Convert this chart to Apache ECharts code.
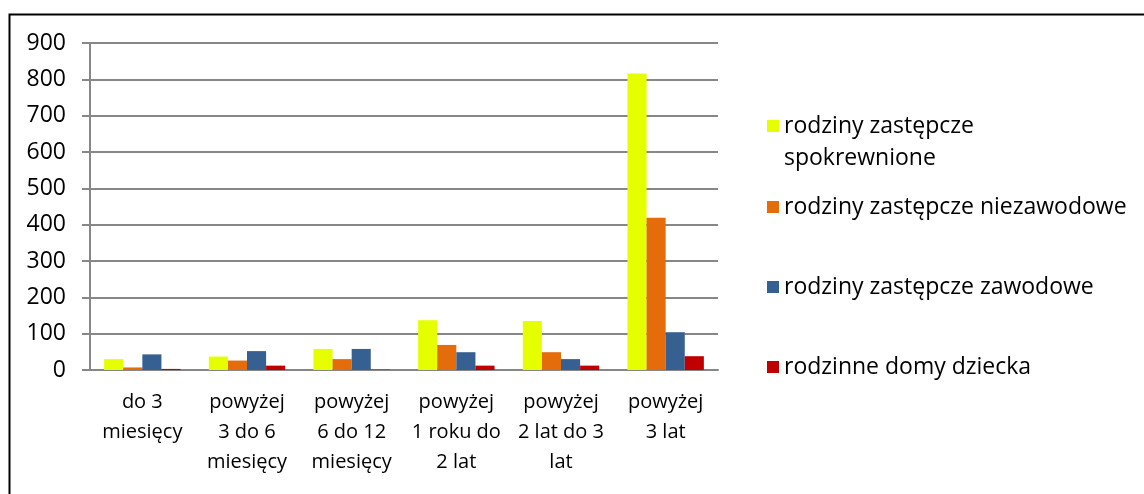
<!DOCTYPE html>
<html>
<head>
<meta charset="utf-8">
<script src="https://cdn.jsdelivr.net/npm/echarts@6/dist/echarts.min.js"></script>
<style>
html,body{margin:0;padding:0;background:#fff;}
#c{width:1144px;height:494px;}
</style>
</head>
<body>
<div id="c"></div>
<script>
const categories = ["do 3\nmiesięcy", "powyżej\n3 do 6\nmiesięcy", "powyżej\n6 do 12\nmiesięcy", "powyżej\n1 roku do\n2 lat", "powyżej\n2 lat do 3\nlat", "powyżej\n3 lat"];
const seriesNames = ["rodziny zastępcze\nspokrewnione", "rodziny zastępcze niezawodowe", "rodziny zastępcze zawodowe", "rodzinne domy dziecka"];
const spokrewnione = [30, 37, 58, 137, 135, 816];
const niezawodowe = [7, 26, 30, 69, 49, 419];
const zawodowe = [43, 52, 58, 49, 30, 104];
const domyDziecka = [3, 12, 1, 12, 12, 38];
const colors = ["#E5FF00", "#E46C0A", "#376092", "#C00000"];

const font = "Open Sans";
const chart = echarts.init(document.getElementById('c'));
const values = [spokrewnione, niezawodowe, zawodowe, domyDziecka];
const legendTops = [105, 186, 266, 346];
chart.setOption({
  backgroundColor: '#fff',
  animation: false,
  textStyle: {fontFamily: font},
  graphic: [{
    type: 'rect', left: 7, top: 12, silent: true,
    shape: {width: 1200, height: 600},
    style: {fill: 'none', stroke: '#000', lineWidth: 2}
  }],
  grid: {left: 90, right: 426, top: 43, bottom: 124},
  legend: seriesNames.map((n, i) => ({
    data: [n],
    orient: 'vertical',
    left: 762,
    top: legendTops[i],
    itemWidth: 12,
    itemHeight: i === 0 ? 44 : 12,
    icon: i === 0 ? 'path://M0,0h12v12h-12z M0,44h0.001v0.001h-0.001z' : 'rect',
    itemGap: 0,
    textStyle: {fontFamily: font, fontSize: 23, color: '#000', lineHeight: 32},
    selectedMode: false
  })),
  xAxis: {
    type: 'category',
    data: categories,
    axisLine: {lineStyle: {color: '#878787', width: 2}},
    axisTick: {length: 8, lineStyle: {color: '#878787', width: 2}},
    axisLabel: {color: '#000', fontSize: 20, lineHeight: 30, margin: 17, interval: 0, fontFamily: font}
  },
  yAxis: {
    type: 'value',
    min: 0, max: 900, interval: 100,
    axisLine: {show: true, lineStyle: {color: '#878787', width: 2}},
    axisTick: {show: true, length: 8, lineStyle: {color: '#878787', width: 2}},
    splitLine: {lineStyle: {color: '#878787', width: 2}},
    axisLabel: {color: '#000', fontSize: 23, margin: 24, fontFamily: font}
  },
  series: values.map((v, i) => ({
    type: 'bar',
    name: seriesNames[i],
    data: v,
    itemStyle: {color: colors[i]},
    barGap: '0%',
    barCategoryGap: '27%'
  }))
});
</script>
</body>
</html>
